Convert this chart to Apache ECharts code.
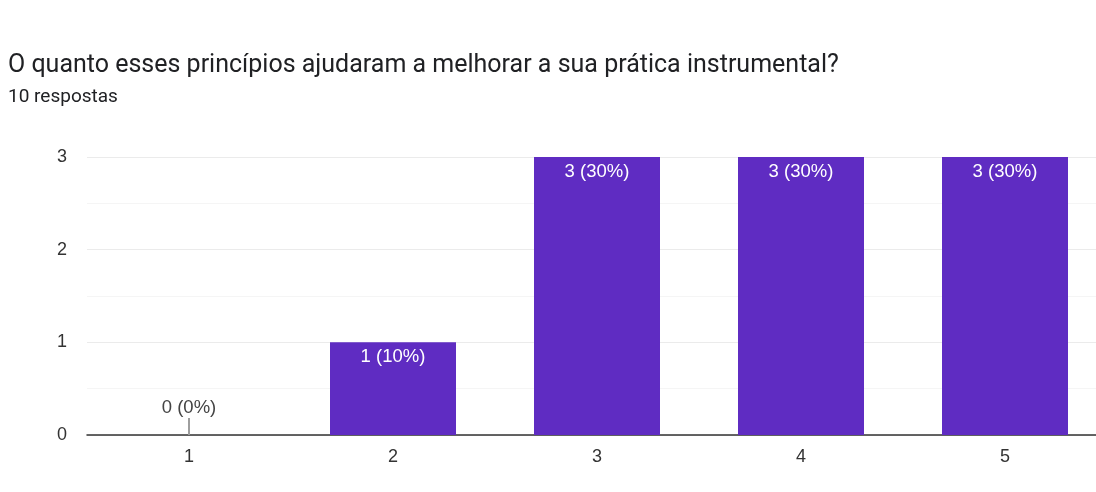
<!DOCTYPE html>
<html>
<head>
<meta charset="utf-8">
<script src="https://cdn.jsdelivr.net/npm/echarts@6/dist/echarts.min.js"></script>
<style>
html,body{margin:0;padding:0;background:#fff;}
#c{width:1096px;height:492px;}
</style>
</head>
<body>
<div id="c"></div>
<script>
var titleText = 'O quanto esses princípios ajudaram a melhorar a sua prática instrumental?';
var subtitleText = '10 respostas';
var categories = ['1', '2', '3', '4', '5'];
var values = [0, 1, 3, 3, 3];
var yTicks = [0, 1, 2, 3];

var total = values.reduce(function (a, b) { return a + b; }, 0);
function fmt(v) { return v + ' (' + Math.round(v / total * 100) + '%)'; }

var labelFont = '"Liberation Sans", Arial, sans-serif';

var barData = values.map(function (v) {
  if (v === 0) {
    return { value: v, label: { position: 'top', distance: 18, color: '#444' } };
  }
  return v;
});

var chart = echarts.init(document.getElementById('c'));
chart.setOption({
  animation: false,
  title: {
    text: titleText,
    subtext: subtitleText,
    left: 8,
    top: 53,
    padding: 0,
    itemGap: 10,
    textStyle: { fontFamily: 'Roboto', fontSize: 25, fontWeight: 'normal', color: '#202124' },
    subtextStyle: { fontFamily: 'Roboto', fontSize: 19, color: '#202124' }
  },
  grid: { left: 87, width: 1020, top: 157, bottom: 57, containLabel: false, outerBoundsMode: 'none' },
  xAxis: {
    type: 'category',
    data: categories,
    axisLine: { show: true, lineStyle: { color: '#333', width: 1.5 } },
    axisTick: { show: false },
    axisLabel: { margin: 13, fontFamily: labelFont, fontSize: 18, color: '#333' },
    splitLine: { show: false }
  },
  yAxis: {
    type: 'value',
    min: yTicks[0],
    max: yTicks[yTicks.length - 1],
    interval: 1,
    axisLine: { show: false },
    axisTick: { show: false },
    axisLabel: { margin: 20, fontFamily: labelFont, fontSize: 18, color: '#333' },
    splitLine: { show: true, lineStyle: { color: '#ebebeb', width: 1 } },
    minorTick: { show: false, splitNumber: 2 },
    minorSplitLine: { show: true, lineStyle: { color: '#f5f5f5', width: 1 } }
  },
  series: [
    {
      type: 'bar',
      data: barData,
      barWidth: 126,
      itemStyle: { color: '#5f2cc2' },
      label: {
        show: true,
        position: 'insideTop',
        distance: 5,
        color: '#fff',
        fontFamily: labelFont,
        fontSize: 18.5,
        formatter: function (p) { return fmt(p.value); }
      },
      z: 3
    },
    {
      type: 'custom',
      data: values.map(function (v, i) { return [i, v]; }),
      renderItem: function (params, api) {
        if (api.value(1) !== 0) return null;
        var p = api.coord([api.value(0), 0]);
        return {
          type: 'line',
          shape: { x1: p[0], y1: p[1], x2: p[0], y2: p[1] - 17 },
          style: { stroke: '#9e9e9e', lineWidth: 2 }
        };
      },
      z: 4
    }
  ]
});
</script>
</body>
</html>
